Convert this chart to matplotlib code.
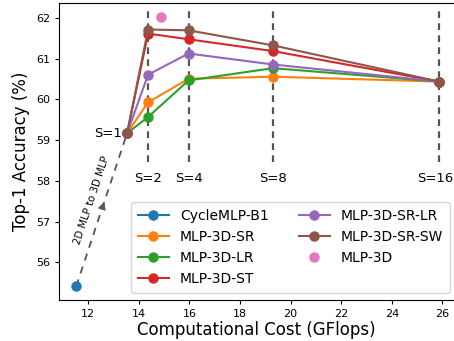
import numpy as np
import matplotlib
matplotlib.use("Agg")
import matplotlib.pyplot as plt

# computational cost (GFlops) for each scale S
scale_labels = ["S=1", "S=2", "S=4", "S=8", "S=16"]
scale_flops = [13.54, 14.37, 15.97, 19.31, 25.88]

cyclemlp_flops = [11.53]
cyclemlp_acc = [55.41]

mlp3d_flops = [14.9]
mlp3d_acc = [62.03]

series_names = ["MLP-3D-SR", "MLP-3D-LR", "MLP-3D-ST", "MLP-3D-SR-LR", "MLP-3D-SR-SW"]
series_acc = [
    [59.17, 59.93, 60.51, 60.56, 60.44],
    [59.17, 59.57, 60.47, 60.77, 60.44],
    [59.17, 61.62, 61.48, 61.19, 60.44],
    [59.17, 60.61, 61.13, 60.86, 60.44],
    [59.17, 61.72, 61.70, 61.33, 60.44],
]
colors = ["tab:orange", "tab:green", "tab:red", "tab:purple", "tab:brown"]

fig = plt.figure(figsize=(4.54, 3.41), dpi=100)
ax = fig.add_axes([0.130, 0.120, 0.870, 0.871])
ax.set_xlim(10.85, 26.46)
ax.set_ylim(55.07, 62.37)

guide = "#555555"
# vertical dashed guides for each scale (except S=1)
for x in scale_flops[1:]:
    ax.plot([x, x], [58.46, 62.25], ls=(0, (3, 2.4)), color=guide, lw=1.6, zorder=1)

ms = 6.5
ax.plot(cyclemlp_flops, cyclemlp_acc, "o-", color="tab:blue", ms=ms, lw=1.5,
        label="CycleMLP-B1", zorder=3)
for name, acc, c in zip(series_names, series_acc, colors):
    ax.plot(scale_flops, acc, "o-", color=c, ms=ms, lw=1.5, label=name, zorder=3)
ax.plot(mlp3d_flops, mlp3d_acc, "o", color="tab:pink", ms=ms, label="MLP-3D",
        zorder=3)

# transition from 2D to 3D
x0, y0 = cyclemlp_flops[0], cyclemlp_acc[0]
x1, y1 = scale_flops[0], series_acc[0][0]
ax.plot([x0, x1], [y0, y1], ls=(0, (4, 3.5)), color=guide, lw=1.3, zorder=2)
xm, ym = x0 + 0.57 * (x1 - x0), y0 + 0.57 * (y1 - y0)
xs, ys = x0 + 0.50 * (x1 - x0), y0 + 0.50 * (y1 - y0)
ax.annotate("", xy=(xm, ym), xytext=(xs, ys),
            arrowprops=dict(arrowstyle="-|>,head_width=0.3,head_length=0.6",
                            color=guide, lw=0), zorder=2)
ax.text(x0 + 0.56 * (x1 - x0) - 0.51, y0 + 0.56 * (y1 - y0),
        "2D MLP to 3D MLP", rotation=71.5, fontsize=7.3,
        ha="center", va="center")

# scale labels
ax.text(scale_flops[0] - 0.2, series_acc[0][0], scale_labels[0], fontsize=9.5,
        ha="right", va="center")
for i, (x, lab) in enumerate(zip(scale_flops[1:], scale_labels[1:])):
    dx = -3 if i == len(scale_labels) - 2 else 0
    ax.annotate(lab, xy=(x, 58.05), xytext=(dx, 0), textcoords="offset points",
                fontsize=9.5, ha="center", va="center")

ax.set_xticks([12, 14, 16, 18, 20, 22, 24, 26])
ax.set_yticks([56, 57, 58, 59, 60, 61, 62])
ax.tick_params(labelsize=8, length=3)
ax.spines["right"].set_visible(False)
ax.set_xlabel("Computational Cost (GFlops)", fontsize=12, labelpad=1.5)
ax.set_ylabel("Top-1 Accuracy (%)", fontsize=12)

ax.legend(ncol=2, loc="lower right", fontsize=10, handlelength=2.2,
          columnspacing=2.2, borderpad=0.5, borderaxespad=0,
          bbox_to_anchor=(0.99, 0.024))

fig.savefig("out.png", dpi=100)
